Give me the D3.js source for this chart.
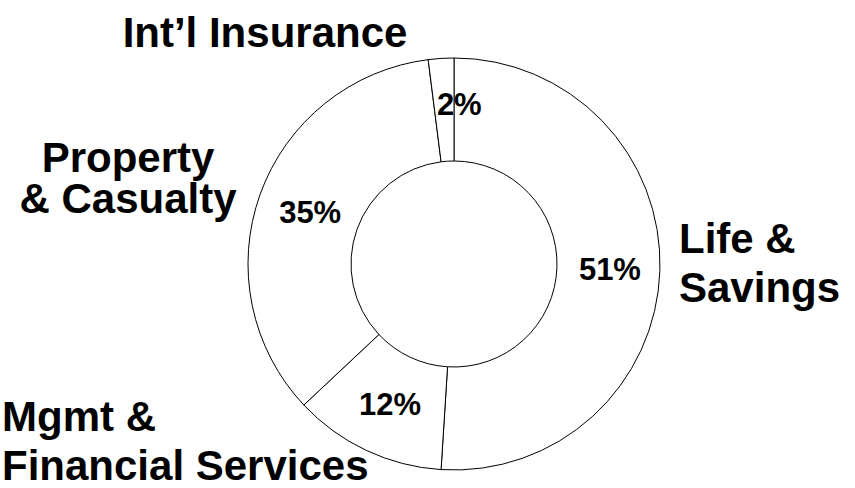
<!DOCTYPE html>
<html>
<head>
<meta charset="utf-8">
<script src="https://cdn.jsdelivr.net/npm/d3@7"></script>
<style>
    body { margin: 0; background: #fff; }
    svg text { font-family: "Liberation Sans", Arial, sans-serif; font-weight: bold; fill: #000; }
</style>
</head>
<body>
<div id="chart"></div>
<script>
// Segments, clockwise from 12 o'clock
const categories = ["Life & Savings", "Mgmt & Financial Services", "Property & Casualty", "Int’l Insurance"]
const shares = [51, 12, 35, 2]
const labelLines = [["Life &", "Savings"], ["Mgmt &", "Financial Services"], ["Property", "& Casualty"], ["Int’l Insurance"]]

const width = 855, height = 488
const cx = 454, cy = 264
const outerR = 206, innerR = 103

const svg = d3.select("#chart").append("svg")
    .attr("width", width)
    .attr("height", height)

const g = svg.append("g").attr("transform", `translate(${cx},${cy})`)

const pie = d3.pie().sort(null).value(d => d)
const arcs = pie(shares)

const arc = d3.arc().innerRadius(innerR).outerRadius(outerR)
const labelArc = d3.arc().innerRadius(155).outerRadius(155)

g.selectAll("path")
    .data(arcs)
    .join("path")
    .attr("d", arc)
    .attr("fill", "#fff")
    .attr("stroke", "#000")
    .attr("stroke-width", 1)

// the tiny slice label does not fit, nudge it right/up
const pctNudge = [[1, 0], [2, 0], [2, 0], [15, -5]]

g.selectAll("text.pct")
    .data(arcs)
    .join("text")
    .attr("class", "pct")
    .attr("text-anchor", "middle")
    .attr("dy", "0.36em")
    .attr("font-size", 31)
    .attr("x", (d, i) => labelArc.centroid(d)[0] + pctNudge[i][0])
    .attr("y", (d, i) => labelArc.centroid(d)[1] + pctNudge[i][1])
    .text(d => d.data + "%")

// outside category labels
const catPos = [
    { x: 679, y: 252.5, anchor: "start", lh: 49 },
    { x: 2, y: 431, anchor: "start", lh: 49 },
    { x: 128, y: 172, anchor: "middle", lh: 41 },
    { x: 265, y: 46.5, anchor: "middle", lh: 0 }
]

labelLines.forEach(function (lines, i) {
    let p = catPos[i]
    let t = svg.append("text")
        .attr("class", "cat")
        .attr("font-size", 42)
        .attr("text-anchor", p.anchor)
        .attr("x", p.x)
        .attr("y", p.y)
    lines.forEach(function (l, j) {
        t.append("tspan")
            .attr("x", p.x)
            .attr("y", p.y + j * p.lh)
            .text(l)
    })
})
</script>
</body>
</html>
